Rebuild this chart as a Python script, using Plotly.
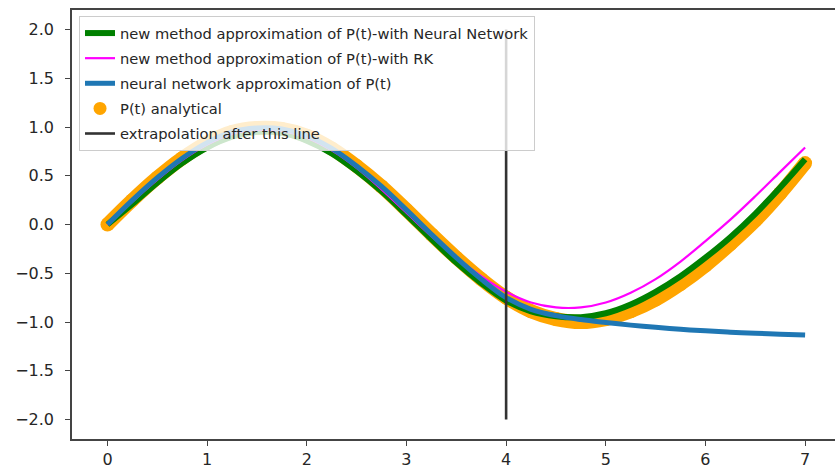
import plotly.graph_objects as go

# time samples (read every 0.25)
t = [0.0, 0.25, 0.5, 0.75, 1.0, 1.25, 1.5, 1.75, 2.0, 2.25, 2.5, 2.75, 3.0, 3.25,
     3.5, 3.75, 4.0, 4.25, 4.5, 4.75, 5.0, 5.25, 5.5, 5.75, 6.0, 6.25, 6.5, 6.75, 7.0]

p_analytical = [0.0, 0.25, 0.48, 0.68, 0.84, 0.95, 0.99, 0.98, 0.91, 0.78, 0.60, 0.39, 0.15, -0.10,
                -0.34, -0.56, -0.75, -0.89, -0.97, -1.0, -0.97, -0.89, -0.77, -0.61, -0.42, -0.20, 0.04, 0.32, 0.63]

p_new_nn = [0.0, 0.21, 0.43, 0.63, 0.79, 0.90, 0.95, 0.94, 0.86, 0.73, 0.55, 0.34, 0.10, -0.15,
            -0.39, -0.60, -0.78, -0.89, -0.94, -0.95, -0.91, -0.82, -0.69, -0.53, -0.34, -0.13, 0.11, 0.38, 0.67]

p_new_rk = [0.0, 0.235, 0.46, 0.66, 0.82, 0.93, 0.97, 0.96, 0.89, 0.76, 0.58, 0.36, 0.12, -0.12,
            -0.34, -0.53, -0.69, -0.80, -0.85, -0.85, -0.80, -0.70, -0.56, -0.38, -0.17, 0.05, 0.29, 0.54, 0.79]

p_nn = [0.0, 0.25, 0.48, 0.68, 0.84, 0.95, 0.99, 0.98, 0.91, 0.78, 0.60, 0.39, 0.15, -0.10,
        -0.34, -0.56, -0.75, -0.87, -0.935, -0.975, -1.005, -1.032, -1.055, -1.075, -1.091, -1.104, -1.115, -1.125, -1.134]

vline_x = [4, 4]
vline_y = [-2, 2]

x_ticks = [0, 1, 2, 3, 4, 5, 6, 7]
y_ticks = [-2.0, -1.5, -1.0, -0.5, 0.0, 0.5, 1.0, 1.5, 2.0]
y_ticktext = ["\u22122.0", "\u22121.5", "\u22121.0", "\u22120.5", "0.0", "0.5", "1.0", "1.5", "2.0"]

FONT = "DejaVu Sans"

fig = go.Figure()

# analytical (drawn first, underneath)
fig.add_trace(go.Scatter(
    x=t, y=p_analytical, mode="lines+markers", name="P(t) analytical",
    line=dict(color="#ffa500", width=14, shape="spline"),
    marker=dict(color="#ffa500", size=14),
    showlegend=False, hoverinfo="skip"))

fig.add_trace(go.Scatter(
    x=t, y=p_new_nn, mode="lines", name="new method approximation of P(t)-with Neural Network",
    line=dict(color="#008000", width=6, shape="spline"),
    legendrank=1, legendgroup="a"))

fig.add_trace(go.Scatter(
    x=t, y=p_new_rk, mode="lines", name="new method approximation of P(t)-with RK",
    line=dict(color="#ff00ff", width=2.2, shape="spline"),
    legendrank=2, legendgroup="b"))

fig.add_trace(go.Scatter(
    x=t, y=p_nn, mode="lines", name="neural network approximation of P(t)",
    line=dict(color="#1f77b4", width=5, shape="spline"),
    legendrank=3, legendgroup="c"))

# legend entry for analytical points
fig.add_trace(go.Scatter(
    x=[None], y=[None], mode="markers", name="P(t) analytical",
    marker=dict(color="#ffa500", size=13),
    legendrank=4, legendgroup="d"))

fig.add_trace(go.Scatter(
    x=vline_x, y=vline_y, mode="lines", name="extrapolation after this line",
    line=dict(color="#333333", width=2.6),
    legendrank=5, legendgroup="e"))

fig.update_layout(
    width=835, height=475,
    margin=dict(l=72, r=0, t=10, b=36),
    paper_bgcolor="white", plot_bgcolor="white",
    font=dict(family=FONT, size=16, color="#262626"),
    showlegend=True,
    legend=dict(
        x=0.0092, y=0.986, xanchor="left", yanchor="top",
        bgcolor="rgba(255,255,255,0.8)", bordercolor="#cccccc", borderwidth=1,
        font=dict(family=FONT, size=14.7, color="#262626"),
        tracegroupgap=3, traceorder="grouped",
    ),
)

fig.update_xaxes(
    range=[-0.356, 7.30], tickvals=x_ticks, ticktext=[str(v) for v in x_ticks],
    showgrid=False, zeroline=False,
    showline=True, linecolor="#444444", linewidth=1.6, mirror=True,
    ticks="outside", ticklen=5, tickwidth=1.3, tickcolor="#444444",
    tickfont=dict(family=FONT, size=16, color="#262626"),
)
fig.update_yaxes(
    range=[-2.2, 2.2], tickvals=y_ticks, ticktext=y_ticktext,
    showgrid=False, zeroline=False,
    showline=True, linecolor="#444444", linewidth=1.6, mirror=False,
    ticks="outside", ticklen=5, tickwidth=1.3, tickcolor="#444444",
    tickfont=dict(family=FONT, size=16, color="#262626"),
    ticklabelstandoff=8,
)

fig.write_html("out.html")
